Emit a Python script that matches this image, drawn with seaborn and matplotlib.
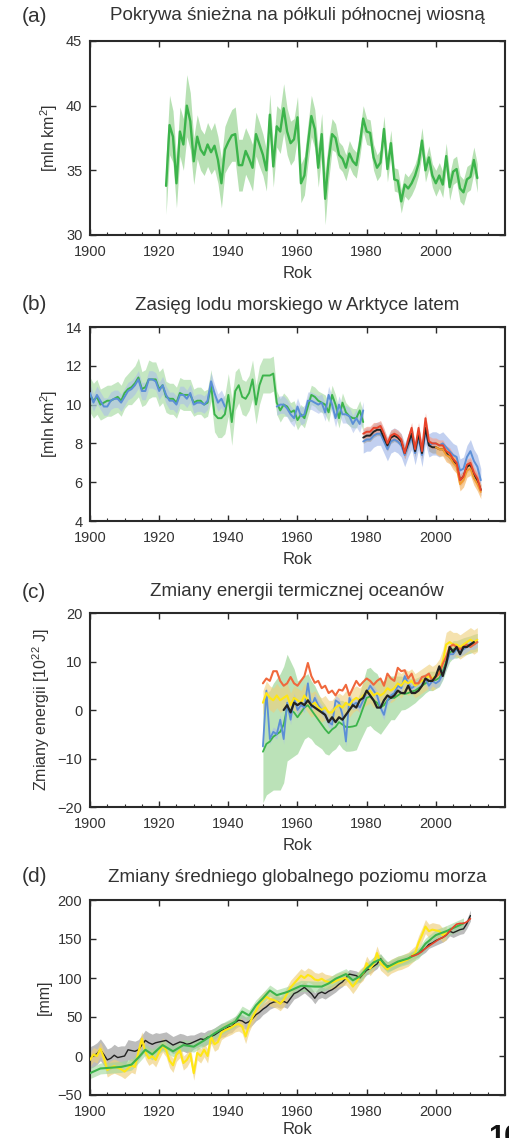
import numpy as np
import matplotlib
matplotlib.use("Agg")
import matplotlib.pyplot as plt
from matplotlib.ticker import MultipleLocator
import seaborn as sns

# ---------------- DATA ----------------
# (a) Northern Hemisphere spring snow cover, 1922-2012
snow_start = 1922
snow_vals = [33.8, 38.5, 37.6, 34.0, 38.0, 37.0, 40.0, 38.8,
             35.7, 37.6, 36.6, 36.2, 37.0, 36.4, 36.9, 35.8, 34.0, 36.6,
             37.2, 37.7, 37.8, 35.4, 35.4, 36.5, 35.9, 35.2, 37.8, 37.0,
             36.2, 35.0, 39.3, 35.3, 38.4, 38.0, 39.8, 38.0, 37.1, 37.4,
             39.1, 34.0, 34.6, 37.0, 39.2, 38.2, 35.2, 37.8, 32.8, 35.8,
             37.8, 37.5, 36.2, 35.9, 35.2, 36.3, 35.7, 35.4, 37.0, 39.0,
             38.0, 37.9, 36.0, 35.2, 35.6, 38.2, 35.1, 37.1, 34.3, 34.2,
             32.6, 33.9, 33.6, 34.0, 34.6, 35.5, 37.3, 35.0, 36.0, 34.6,
             34.0, 34.6, 33.9, 36.1, 33.7, 34.9, 35.1, 33.6, 33.3, 34.3,
             34.5, 35.8, 34.4]
snow_err = [2.2, 2.3, 2.0, 1.9, 1.9, 2.0, 2.4, 2.2,
            1.8, 1.7, 1.6, 1.6, 1.7, 1.7, 1.8, 1.8, 1.9, 1.8,
            1.9, 2.0, 2.1, 2.0, 2.0, 1.8, 1.8, 1.8, 1.7, 1.7,
            1.6, 1.6, 1.6, 1.6, 1.6, 1.7, 1.9, 1.8, 1.7, 1.6,
            1.6, 1.5, 1.5, 1.5, 1.6, 1.5, 1.5, 1.6, 2.0, 1.6,
            1.2, 1.1, 1.0, 1.0, 1.0, 1.0, 1.0, 1.0, 1.0, 1.0,
            1.0, 1.0, 1.0, 1.0, 1.0, 1.0, 1.0, 1.0, 0.9, 0.9,
            0.9, 0.9, 0.9, 0.9, 0.9, 0.9, 1.0, 0.9, 0.9, 0.9,
            1.0, 1.0, 1.0, 1.0, 1.0, 1.0, 1.0, 1.0, 1.0, 1.0,
            1.0, 1.0, 1.1]

# (b) Arctic summer sea-ice extent
ice_green_start = 1900
ice_green = [10.5, 10.2, 10.4, 10.0, 10.1, 10.2, 10.2, 10.3, 10.4, 10.2,
             10.6, 10.8, 10.9, 11.1, 11.4, 10.8, 10.9, 11.3, 11.3, 11.3,
             10.8, 11.0, 10.4, 10.3, 10.3, 10.1, 10.6, 10.5, 10.5, 10.5,
             10.1, 10.2, 10.2, 10.0, 10.1, 11.0, 9.5, 9.3, 9.3, 9.5,
             10.5, 9.1, 10.7, 11.0, 10.4, 10.3, 10.6, 11.3, 10.0, 11.0,
             11.5, 11.5, 11.5, 11.6, 10.1, 9.7, 10.0, 9.9, 9.6, 9.7,
             9.2, 9.5, 9.3, 9.9, 10.5, 10.4, 10.2, 10.1, 10.0, 9.6,
             10.5, 10.0, 9.3, 10.1, 9.6, 9.4, 9.3, 9.3, 9.7, 9.1]
ice_green_err = [0.9, 0.9, 0.9, 0.8, 0.8, 0.8, 0.8, 0.8, 0.8, 0.8,
                 0.8, 0.8, 0.9, 0.9, 1.0, 0.9, 0.9, 1.0, 0.9, 0.9,
                 0.9, 0.9, 0.8, 0.8, 0.8, 0.8, 0.8, 0.8, 0.8, 0.8,
                 0.7, 0.7, 0.7, 0.7, 0.7, 0.8, 0.9, 1.0, 1.0, 1.0,
                 1.1, 1.2, 1.0, 0.9, 0.9, 0.9, 0.9, 1.0, 1.0, 1.0,
                 0.9, 0.9, 0.9, 0.9, 0.6, 0.6, 0.6, 0.5, 0.5, 0.5,
                 0.5, 0.5, 0.5, 0.5, 0.5, 0.5, 0.5, 0.5, 0.5, 0.5,
                 0.5, 0.5, 0.5, 0.5, 0.5, 0.5, 0.5, 0.5, 0.5, 0.5]
ice_blue1_start = 1900
ice_blue1 = [10.6, 10.1, 10.5, 10.2, 9.9, 9.9, 10.2, 10.3, 10.3, 10.1,
             10.4, 10.7, 10.8, 11.0, 11.3, 10.7, 10.7, 11.3, 11.3, 11.2,
             10.7, 11.0, 10.5, 10.2, 10.2, 10.0, 10.5, 10.5, 10.3, 10.6,
             10.0, 10.1, 10.1, 10.0, 10.2, 11.2, 10.6, 10.1, 10.3, 9.9]
ice_blue2_start = 1954
ice_blue2 = [9.9, 10.0, 10.0, 9.8, 9.5, 9.3, 9.9, 9.4, 9.5, 10.2,
             10.2, 10.1, 10.0, 10.1, 9.6, 10.5, 10.0, 9.3, 10.0, 9.5,
             9.5, 9.4, 9.0, 9.3, 9.0, 9.7]
ice_blue_err = 0.45
sat_start = 1979
ice_blue3 = [8.1, 8.2, 8.2, 8.4, 8.5, 8.5, 8.1, 7.7, 8.1, 8.2,
             8.1, 7.9, 7.4, 7.9, 8.3, 7.5, 8.3, 7.4, 8.6, 7.9,
             8.0, 8.0, 7.9, 8.0, 7.8, 7.6, 7.4, 7.3, 6.6, 6.7,
             7.3, 7.6, 7.1, 6.8, 6.1]
ice_blue3_err = 0.6
ice_red = [8.5, 8.6, 8.6, 8.8, 8.8, 8.9, 8.5, 8.0, 8.4, 8.5,
           8.4, 8.2, 7.5, 8.2, 8.8, 7.7, 8.8, 7.6, 9.3, 8.1,
           8.0, 8.0, 7.9, 7.9, 7.6, 7.5, 7.2, 7.0, 6.1, 6.3,
           6.9, 7.0, 6.5, 6.2, 5.6]
ice_red_err = 0.28
ice_black = [8.3, 8.4, 8.4, 8.6, 8.7, 8.7, 8.3, 7.9, 8.3, 8.4,
             8.3, 8.1, 7.5, 8.0, 8.5, 7.6, 8.5, 7.5, 8.8, 7.9,
             7.8, 7.8, 7.7, 7.7, 7.5, 7.3, 7.1, 6.9, 6.1, 6.3,
             6.8, 6.9, 6.4, 6.1, 5.6]
ice_black_err = 0.3
ice_orange_start = 2000
ice_orange = [7.8, 7.7, 7.7, 7.4, 7.3, 7.0, 6.8, 5.9, 6.1, 6.6, 6.7, 6.2, 5.9, 5.5]
ice_orange_err = 0.35

# (c) Ocean heat content change, 10^22 J
ohc_start = 1950
ohc_green = [-8.6, -7.0, -6.5, -5.5, -5.0, -4.5, -3.0, 0.5, 0.0, -0.5,
             -1.5, -0.5, 0.5, 1.0, 0.0, -1.0, -2.0, -3.0, -4.0, -4.8,
             -4.0, -3.5, -2.5, -3.0, -3.5, -3.5, -3.4, -3.2, -1.5, 0.5,
             2.5, 2.8, 2.0, 1.5, 0.5, 1.0, 2.0, 2.5, 2.5, 3.0,
             3.5, 3.3, 3.5, 3.8, 4.0, 4.5, 5.0, 5.5, 6.0, 6.0,
             6.2, 6.6, 8.0, 10.0, 11.7, 12.5, 12.5, 12.8, 13.1, 13.3,
             13.5, 13.8, 14.0]
ohc_green_err = [10.5, 10.5, 10.5, 11.0, 11.5, 12.0, 12.0, 11.0, 10.0, 9.0,
                 7.5, 7.0, 6.5, 6.5, 6.0, 6.0, 5.5, 5.0, 5.0, 4.5,
                 4.5, 4.5, 4.5, 5.0, 5.0, 5.0, 5.0, 5.0, 5.0, 5.5,
                 6.0, 6.0, 6.0, 6.0, 5.5, 5.0, 5.0, 4.5, 4.5, 4.0,
                 3.5, 3.2, 3.0, 2.8, 2.5, 2.3, 2.2, 2.0, 2.0, 2.0,
                 1.8, 1.8, 1.8, 1.8, 1.8, 1.8, 1.8, 1.8, 1.8, 1.8,
                 1.8, 1.8, 1.8]
ohc_blue = [-7.5, 4.0, -6.0, -4.5, -5.0, -2.0, -6.0, 1.5, -2.0, 2.5,
            0.0, 1.0, 0.5, 5.5, 0.5, 2.5, 1.0, 0.0, -1.0, -2.5,
            -3.0, 2.0, 1.5, -1.0, -6.5, 2.5, 1.0, 1.5, 0.5, 2.0,
            3.5, 5.0, 4.0, 3.0, 0.5, -1.0, 2.0, 3.0, 3.5, 5.0,
            4.5, 7.0, 5.5, 4.5, 5.0, 5.5, 6.0, 6.5, 5.0, 6.0,
            5.5, 6.0, 7.5, 9.5, 11.5, 11.5, 12.5, 12.0, 12.5, 13.0,
            13.5, 13.5, 14.0]
ohc_blue_err = 1.0
ohc_red = [5.5, 6.5, 6.0, 8.0, 8.0, 6.0, 5.0, 5.5, 6.8, 5.5,
           5.0, 6.0, 7.0, 9.7, 7.0, 5.6, 6.0, 4.5, 5.0, 3.5,
           4.0, 3.0, 4.2, 4.0, 5.2, 3.0, 4.5, 6.0, 5.0, 5.8,
           6.5, 6.0, 5.2, 6.0, 6.5, 5.0, 7.5, 6.5, 6.0, 8.7,
           8.0, 8.2, 6.5, 7.5, 5.5, 5.5, 6.8, 7.0, 7.5, 6.0,
           6.8, 7.5, 9.5, 11.0, 13.0, 13.5, 13.0, 12.5, 13.0, 13.5,
           13.0, 13.5, 14.0]
ohc_yellow = [1.5, 3.5, 2.5, 2.0, 3.0, 2.0, 2.5, 3.0, 1.0, 2.5,
              2.0, 1.5, 3.0, 2.0, 1.0, 1.5, 0.5, 0.0, 0.5, -0.5,
              -0.5, 0.5, 1.0, 0.5, 1.5, 1.0, 2.0, 2.5, 2.0, 3.0,
              3.5, 4.0, 3.0, 3.5, 3.0, 3.5, 4.5, 4.0, 4.5, 5.5,
              5.0, 6.0, 5.5, 6.0, 5.0, 5.5, 6.0, 6.5, 7.0, 6.5,
              7.0, 8.0, 10.0, 13.5, 14.0, 13.5, 13.5, 13.0, 13.5, 14.0,
              14.5, 14.0, 14.5]
ohc_yellow_err = 2.5
ohc_black_start = 1956
ohc_black = [0.0, 1.0, -0.5, 1.5, 1.0, 1.5, 1.0, 2.0, 1.0, 0.5,
             0.0, -0.5, -1.0, -2.5, -1.5, -2.5, -1.5, -2.0, -1.0, 0.0,
             1.0, 0.5, 2.0, 2.5, 4.0, 3.0, 2.0, 0.5, 0.5, 2.0,
             3.0, 2.5, 3.0, 4.0, 3.5, 3.5, 5.0, 3.5, 3.5, 4.0,
             5.0, 6.5, 6.0, 6.0, 7.0, 9.0, 7.0, 9.5, 13.0, 12.0,
             13.0, 11.5, 13.0, 13.0, 13.5, 14.0]

# (d) Global mean sea level change, mm
gmsl_start = 1900
gmsl_black = [-2, 0, 3, 8, 2, -5, -3, 1, -2, -1,
              0, 8, 7, 6, 8, 14, 20, 17, 15, 17,
              18, 19, 20, 17, 14, 16, 18, 17, 15, 16,
              18, 20, 22, 21, 24, 25, 27, 30, 33, 34,
              37, 38, 43, 46, 45, 42, 44, 48, 53, 56,
              60, 63, 67, 69, 70, 68, 70, 68, 74, 80,
              82, 85, 88, 84, 80, 74, 80, 82, 80, 83,
              85, 88, 92, 95, 100, 105, 104, 103, 100, 105,
              110, 112, 115, 118, 125, 118, 115, 116, 118, 120,
              122, 123, 125, 128, 130, 132, 135, 138, 143, 145,
              148, 150, 152, 155, 160, 158, 160, 162, 163, 170,
              180]
gmsl_black_err = [14] * 10 + [13] * 10 + [11] * 10 + [9] * 10 + [8] * 10 + \
                 [7] * 10 + [7] * 10 + [6] * 10 + [6] * 10 + [5] * 10 + [6] * 10 + [7]
gmsl_yellow = [-5, 2, 0, 9, -2, -18, -15, -13, -15, -17,
               -20, -16, -12, -14, 5, 22, 5, -3, 0, -5,
               5, 14, 8, -6, -12, 2, 7, -9, -5, 3,
               -22, 4, 0, 8, 0, 25, 15, 18, 30, 33,
               35, 37, 40, 41, 38, 25, 40, 50, 58, 67,
               72, 76, 73, 72, 70, 67, 72, 80, 88, 93,
               98, 103, 100, 104, 102, 98, 97, 99, 96, 95,
               94, 96, 98, 99, 100, 95, 89, 95, 102, 106,
               119, 112, 118, 132, 119, 115, 111, 115, 117, 119,
               120, 122, 124, 128, 132, 145, 155, 166, 160, 162,
               161, 160, 155, 158]
gmsl_yellow_err = 9
gmsl_green_years = [1900, 1903, 1906, 1909, 1912, 1914, 1916, 1918, 1921, 1924,
                    1927, 1930, 1933, 1936, 1939, 1942, 1944, 1946, 1948, 1950,
                    1952, 1954, 1957, 1961, 1965, 1967, 1969, 1971, 1974, 1976,
                    1978, 1980, 1982, 1984, 1986, 1989, 1992, 1995, 1997, 2000,
                    2003, 2006, 2008]
gmsl_green = [-22, -16, -15, -14, -11, -2, 8, 2, 14, 6,
              14, 12, 20, 29, 37, 44, 57, 52, 65, 74,
              84, 78, 82, 90, 89, 89, 93, 99, 105, 97,
              102, 112, 120, 124, 114, 121, 125, 132, 144, 155,
              160, 166, 170]
gmsl_green_err = 7
gmsl_red_start = 1993
gmsl_red = [128, 129, 131, 134, 138, 141, 144, 147, 150, 152,
            155, 160, 165, 169, 170, 170, 172, 176]

panel_letters = ["(a)", "(b)", "(c)", "(d)"]
titles = ["Pokrywa śnieżna na półkuli północnej wiosną",
          "Zasięg lodu morskiego w Arktyce latem",
          "Zmiany energii termicznej oceanów",
          "Zmiany średniego globalnego poziomu morza"]
ylabels = ["[mln km$^2$]", "[mln km$^2$]", "Zmiany energii [10$^{22}$ J]", "[mm]"]
xlabel = "Rok"
yranges = [(30, 45, 5), (4, 14, 2), (-20, 20, 10), (-50, 200, 50)]

# ---------------- STYLE ----------------
sns.set_theme(style="ticks")
plt.rcParams["font.family"] = ["Liberation Sans", "DejaVu Sans"]
plt.rcParams["mathtext.fontset"] = "custom"
plt.rcParams["mathtext.rm"] = "Liberation Sans"
plt.rcParams["mathtext.it"] = "Liberation Sans"
TXT = "#333333"
SPINE = "#2a2a2a"

C_GREEN = "#3cb44b"
C_GREEN_B = "#9fd79a"
C_BLUE = "#5b8fd6"
C_BLUE_B = "#a9bdea"
C_RED = "#e8432a"
C_RED_B = "#f2a393"
C_ORANGE = "#f29a2e"
C_ORANGE_B = "#f6c07e"
C_BLACK = "#222222"
C_GRAY_B = "#a6a6a6"
C_YELLOW = "#ffe614"
C_YELLOW_B = "#efcf7a"
C_OHC_RED = "#f0683c"

fig = plt.figure(figsize=(5.10, 11.38), dpi=100)
W, H = 510.0, 1138.0
boxes = [(41, 235), (327, 521), (613, 807), (900, 1095)]
title_y = [16, 305, 592, 877]
xlabel_pads = [5, 5, 5, 2]
axes = []
for top, bot in boxes:
    ax = fig.add_axes([90 / W, 1 - bot / H, 415 / W, (bot - top) / H])
    axes.append(ax)


def yrs(start, n):
    return np.arange(start, start + n)


def band(ax, x, y, e, color, alpha=1.0, z=1):
    y = np.asarray(y, float)
    e = np.asarray(e, float)
    ax.fill_between(x, y - e, y + e, color=color, alpha=alpha, lw=0, zorder=z)


def line(ax, x, y, color, lw=1.2, z=3):
    sns.lineplot(x=x, y=y, ax=ax, color=color, lw=lw, zorder=z, legend=False)


# (a)
ax = axes[0]
xa = yrs(snow_start, len(snow_vals))
band(ax, xa, snow_vals, snow_err, C_GREEN_B, 0.75)
line(ax, xa, snow_vals, C_GREEN, lw=1.7)

# (b)
ax = axes[1]
xg = yrs(ice_green_start, len(ice_green))
xb1 = yrs(ice_blue1_start, len(ice_blue1))
xb2 = yrs(ice_blue2_start, len(ice_blue2))
xs = yrs(sat_start, len(ice_red))
xo = yrs(ice_orange_start, len(ice_orange))
band(ax, xg, ice_green, ice_green_err, C_GREEN_B, 0.6, z=1)
band(ax, xb1, ice_blue1, ice_blue_err, C_BLUE_B, 0.55, z=1.1)
band(ax, xb2, ice_blue2, ice_blue_err, C_BLUE_B, 0.55, z=1.1)
band(ax, xs, ice_blue3, ice_blue3_err, C_BLUE_B, 0.7, z=1.1)
band(ax, xs, ice_black, ice_black_err, C_GRAY_B, 0.7, z=1.2)
band(ax, xs, ice_red, ice_red_err, C_RED_B, 0.7, z=1.3)
band(ax, xo, ice_orange, ice_orange_err, C_ORANGE_B, 0.8, z=1.4)
line(ax, xg, ice_green, C_GREEN, lw=1.4, z=3)
line(ax, xb1, ice_blue1, C_BLUE, lw=1.4, z=3.1)
line(ax, xb2, ice_blue2, C_BLUE, lw=1.4, z=3.1)
line(ax, xs, ice_blue3, C_BLUE, lw=1.4, z=3.1)
line(ax, xs, ice_black, C_BLACK, lw=1.4, z=3.2)
line(ax, xo, ice_orange, C_ORANGE, lw=1.4, z=3.3)
line(ax, xs, ice_red, C_RED, lw=1.4, z=3.4)

# (c)
ax = axes[2]
xc = yrs(ohc_start, len(ohc_green))
xk = yrs(ohc_black_start, len(ohc_black))
band(ax, xc, ohc_green, ohc_green_err, C_GREEN_B, 0.7, z=1)
band(ax, xc, ohc_yellow, ohc_yellow_err, C_YELLOW_B, 0.6, z=1.2)
band(ax, xc, ohc_blue, ohc_blue_err, C_BLUE_B, 0.6, z=1.3)
line(ax, xc, ohc_green, C_GREEN, lw=1.3, z=3)
line(ax, xc, ohc_blue, C_BLUE, lw=1.3, z=3.1)
line(ax, xc, ohc_yellow, C_YELLOW, lw=1.5, z=3.2)
line(ax, xc, ohc_red, C_OHC_RED, lw=1.5, z=3.3)
line(ax, xk, ohc_black, C_BLACK, lw=1.6, z=3.4)

# (d)
ax = axes[3]
xdk = yrs(gmsl_start, len(gmsl_black))
xdy = yrs(gmsl_start, len(gmsl_yellow))
xdr = yrs(gmsl_red_start, len(gmsl_red))
band(ax, xdk, gmsl_black, gmsl_black_err, C_GRAY_B, 0.75, z=1)
band(ax, xdy, gmsl_yellow, gmsl_yellow_err, C_YELLOW_B, 0.65, z=1.1)
band(ax, gmsl_green_years, gmsl_green, gmsl_green_err, C_GREEN_B, 0.6, z=1.2)
line(ax, xdk, gmsl_black, C_BLACK, lw=1.0, z=3)
line(ax, xdy, gmsl_yellow, C_YELLOW, lw=1.5, z=3.1)
line(ax, gmsl_green_years, gmsl_green, C_GREEN, lw=1.5, z=3.2)
line(ax, xdr, gmsl_red, C_RED, lw=1.2, z=3.3)

# ---------------- AXES FORMAT ----------------
for i, ax in enumerate(axes):
    lo, hi, st = yranges[i]
    ax.set_xlim(1900, 2020)
    ax.set_ylim(lo, hi)
    ax.set_xticks(np.arange(1900, 2001, 20))
    ax.set_yticks(np.arange(lo, hi + 0.1, st))
    ax.xaxis.set_minor_locator(MultipleLocator(5))
    ax.tick_params(axis="both", which="major", direction="in", top=True, right=True,
                   length=4, width=1.0, color=SPINE, labelsize=10.5, labelcolor=TXT)
    ax.tick_params(axis="x", which="major", pad=7)
    ax.tick_params(axis="y", which="major", pad=5.5)
    ax.tick_params(axis="x", which="minor", direction="in", top=False, bottom=True,
                   length=2.5, width=0.8, color=SPINE)
    ax.tick_params(axis="y", which="minor", left=False, right=False)
    for s in ax.spines.values():
        s.set_color(SPINE)
        s.set_linewidth(1.5)
    ax.set_xlabel(xlabel, fontsize=12, color=TXT, labelpad=xlabel_pads[i])
    ax.set_ylabel(ylabels[i], fontsize=11.5, color=TXT, labelpad=4)
    ax.set_facecolor("white")
    ty = title_y[i]
    fig.text(22 / W, 1 - ty / H, panel_letters[i], fontsize=15,
             color=TXT, ha="left", va="center")
    fig.text(297 / W, 1 - ty / H, titles[i], fontsize=13.5,
             color=TXT, ha="center", va="center")

fig.text(488 / W, 1 - 1123 / H, "10", fontsize=21, fontweight="bold",
         color="#111111", ha="left", va="top")

fig.savefig("out.png", dpi=100, facecolor="white")
